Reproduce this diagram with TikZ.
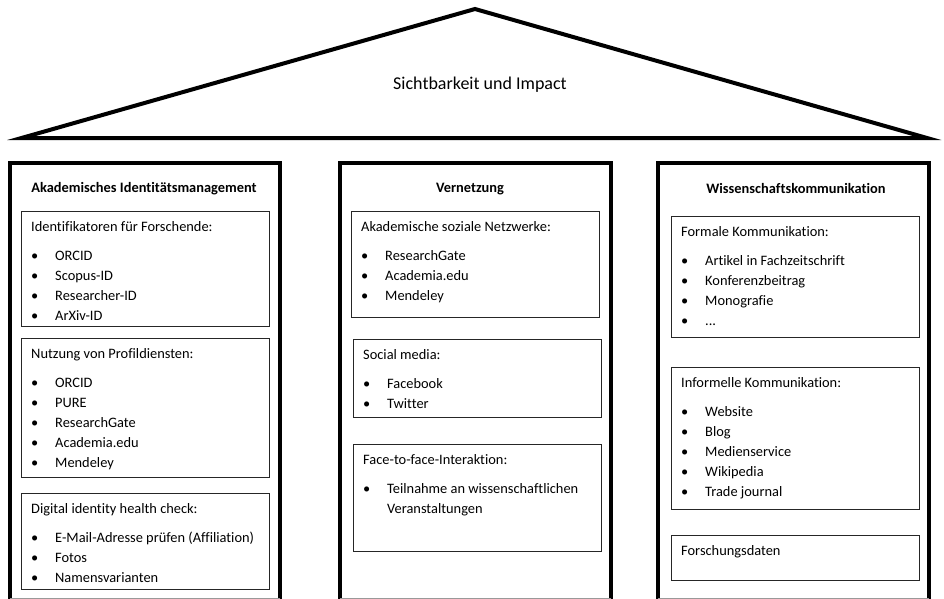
\documentclass[tikz,border=0pt]{standalone}
\usepackage{fontspec}
\setmainfont{Carlito}[Ligatures=NoCommon]
\usetikzlibrary{positioning}
\newcommand{\itm}[1]{\makebox[24pt][l]{\textbullet}#1}

\begin{document}
\begin{tikzpicture}[
  x=1pt, y=-1pt,
  roof/.style={draw, line width=4pt, line join=miter},
  pillar/.style={draw, line width=3.5pt},
  subbox/.style={draw=black!85, line width=0.9pt, anchor=north west, minimum width=248pt, inner sep=0pt},
  boxtext/.style={anchor=north west, inner sep=0pt, align=left, font=\fontsize{14.4}{20}\selectfont},
  pillartitle/.style={font=\fontsize{14.4}{17}\selectfont\bfseries}
]
\useasboundingbox (0,0) rectangle (944,599);

% Roof
\draw[roof] (21.5,138) -- (475,9) -- (927,138) -- cycle;
\node[font=\fontsize{18}{22}\selectfont] (roof) at (480,85) {Sichtbarkeit und Impact};

% Pillars
\draw[pillar] (10,599) |- (280,163) -- (280,599);
\draw[pillar] (340,599) |- (611,163) -- (611,599);
\draw[pillar] (658,599) |- (929,163) -- (929,599);
\draw[black!40] (10,598.5) -- (280,598.5);
\draw[black!40] (340,598.5) -- (611,598.5);
\draw[black!40] (658,598.5) -- (929,598.5);

% Pillar 1
\node[pillartitle] (idtitle) at (144,189) {Akademisches Identitätsmanagement};
\node[subbox, minimum height=115pt] (idbox) at (21,211) {};
\node[boxtext, below right=10pt and 10pt of idbox.north west] (idtext)
  {Identifikatoren für Forschende:\\[9pt]\itm{ORCID}\\\itm{Scopus-ID}\\\itm{Researcher-ID}\\\itm{ArXiv-ID}};
\node[subbox, minimum height=139pt] (profbox) at (21,338) {};
\node[boxtext, below right=10pt and 10pt of profbox.north west] (proftext)
  {Nutzung von Profildiensten:\\[9pt]\itm{ORCID}\\\itm{PURE}\\\itm{ResearchGate}\\\itm{Academia.edu}\\\itm{Mendeley}};
\node[subbox, minimum height=96pt] (checkbox) at (21,493) {};
\node[boxtext, below right=10pt and 10pt of checkbox.north west] (checktext)
  {Digital identity health check:\\[9pt]\itm{E-Mail-Adresse prüfen (Affiliation)}\\\itm{Fotos}\\\itm{Namensvarianten}};

% Pillar 2
\node[pillartitle] (nettitle) at (470,189) {Vernetzung};
\node[subbox, minimum height=106pt] (netbox) at (351,211) {};
\node[boxtext, below right=10pt and 10pt of netbox.north west] (nettext)
  {Akademische soziale Netzwerke:\\[9pt]\itm{ResearchGate}\\\itm{Academia.edu}\\\itm{Mendeley}};
\node[subbox, minimum height=78pt] (socbox) at (353,339) {};
\node[boxtext, below right=10pt and 10pt of socbox.north west] (soctext)
  {Social media:\\[9pt]\itm{Facebook}\\\itm{Twitter}};
\node[subbox, minimum height=107pt] (facebox) at (353,444) {};
\node[boxtext, below right=10pt and 10pt of facebox.north west] (facetext)
  {Face-to-face-Interaktion:\\[9pt]\itm{Teilnahme an wissenschaftlichen}\\\hspace*{24pt}Veranstaltungen};

% Pillar 3
\node[pillartitle] (comtitle) at (796,188) {Wissenschaftskommunikation};
\node[subbox, minimum height=121pt] (formbox) at (671,216) {};
\node[boxtext, below right=10pt and 10pt of formbox.north west] (formtext)
  {Formale Kommunikation:\\[9pt]\itm{Artikel in Fachzeitschrift}\\\itm{Konferenzbeitrag}\\\itm{Monografie}\\\itm{...}};
\node[subbox, minimum height=142pt] (infbox) at (671,367) {};
\node[boxtext, below right=10pt and 10pt of infbox.north west] (inftext)
  {Informelle Kommunikation:\\[9pt]\itm{Website}\\\itm{Blog}\\\itm{Medienservice}\\\itm{Wikipedia}\\\itm{Trade journal}};
\node[subbox, minimum height=45pt] (databox) at (671,535) {};
\node[boxtext, below right=10pt and 10pt of databox.north west] (datatext) {Forschungsdaten};

\end{tikzpicture}
\end{document}
